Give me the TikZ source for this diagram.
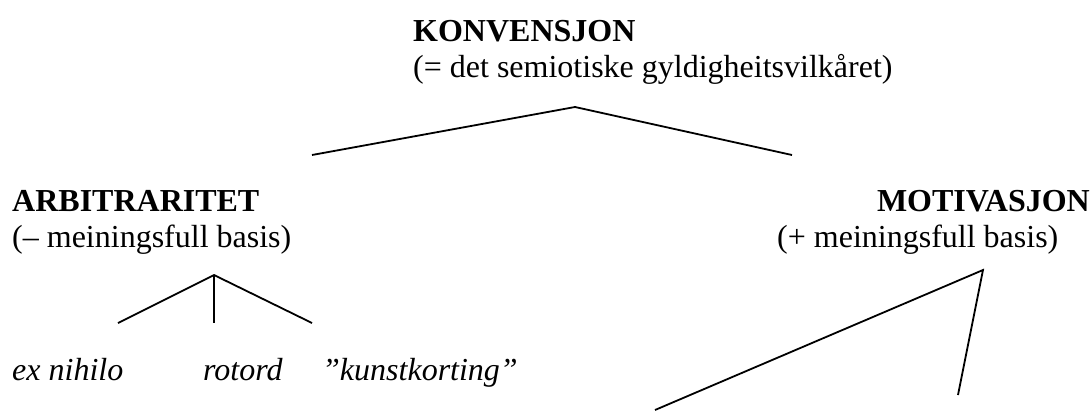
\documentclass[tikz,border=0pt]{standalone}
\usepackage{fontspec}
\setmainfont{Liberation Serif}
\begin{document}
\begin{tikzpicture}[x=1pt,y=-1pt,
  lbl/.style={inner sep=0pt,anchor=base west,font=\fontsize{32}{38}\selectfont},
  head/.style={lbl,font=\fontsize{32}{38}\selectfont\bfseries},
  term/.style={lbl,font=\fontsize{32}{38}\selectfont\itshape},
  branch/.style={line width=1.8pt,line join=miter}]
\useasboundingbox (0,0) rectangle (1091,410);

% top concept
\node[head] (konv) at (413,41) {KONVENSJON};
\node[lbl] (konvsub) at (413,77) {(= det semiotiske gyldigheitsvilkåret)};

% left branch
\node[head] (arb) at (12,211) {ARBITRARITET};
\node[lbl] (arbsub) at (12,247) {(– meiningsfull basis)};

% right branch
\node[head,anchor=base east] (mot) at (1090,211) {MOTIVASJON};
\node[lbl] (motsub) at (777,247) {(+ meiningsfull basis)};

% terms under ARBITRARITET
\node[term] (exn) at (12,380) {ex nihilo};
\node[term] (rot) at (203,380) {rotord};
\node[term] (kunst) at (322,380) {”kunstkorting”};

% branch points
\coordinate (topApex) at (575,107);
\coordinate (topL) at (312,155);
\coordinate (topR) at (792,155);
\coordinate (arbApex) at (214,275);
\coordinate (arbL) at (118,323);
\coordinate (arbM) at (214,323);
\coordinate (arbR) at (312,323);
\coordinate (motApex) at (983,270);
\coordinate (motL) at (655,410);
\coordinate (motR) at (958,395);

\draw[branch] (topL) -- (topApex) -- (topR);
\draw[branch] (arbL) -- (arbApex) -- (arbR);
\draw[branch] (arbApex) -- (arbM);
\draw[branch] (motL) -- (motApex) -- (motR);
\end{tikzpicture}
\end{document}
